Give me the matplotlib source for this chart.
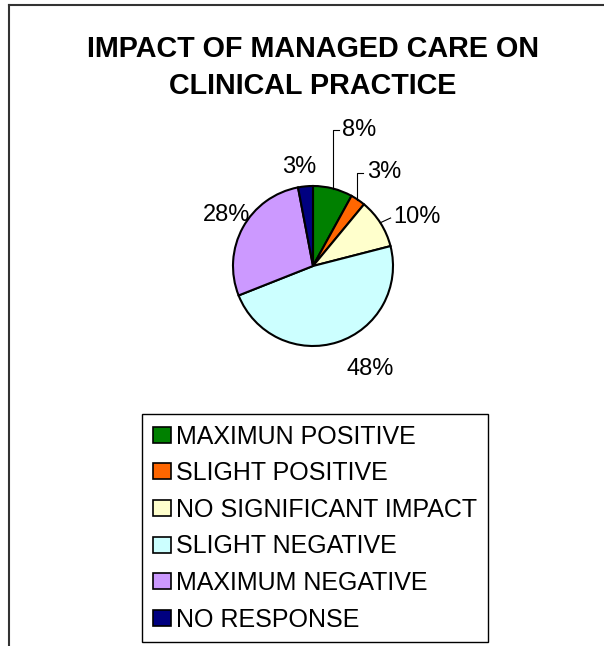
import matplotlib.pyplot as plt
from matplotlib.patches import Patch
from matplotlib.lines import Line2D

plt.rcParams['font.family'] = ['Liberation Sans', 'DejaVu Sans']

# data
categories = ['MAXIMUN POSITIVE', 'SLIGHT POSITIVE', 'NO SIGNIFICANT IMPACT',
              'SLIGHT NEGATIVE', 'MAXIMUM NEGATIVE', 'NO RESPONSE']
shares = [8, 3, 10, 48, 28, 3]
colors = ['#008000', '#FF6600', '#FFFFCC', '#CCFFFF', '#CC99FF', '#000080']

W, H = 604, 646
fig = plt.figure(figsize=(W / 100, H / 100), dpi=100)

# pie axes: centre (313, 266) px, radius 80 px -> 3 data units across 240 px
ax = fig.add_axes([193 / W, 1 - 386 / H, 240 / W, 240 / H])
wedges, _ = ax.pie(shares, colors=colors, startangle=90, counterclock=False,
                   radius=1, wedgeprops=dict(edgecolor='black', linewidth=1.5))
ax.set_xlim(-1.5, 1.5)
ax.set_ylim(-1.5, 1.5)
ax.axis('off')

# percent labels (moved by hand in the original, some with leader lines)
lab_kw = dict(fontsize=17, color='black', va='center')
line_kw = dict(color='black', lw=0.8, clip_on=False)
ax.text(0.36, 1.70, f'{shares[0]}%', ha='left', **lab_kw)
ax.plot([0.25, 0.25, 0.32], [0.96, 1.70, 1.70], **line_kw)
ax.text(0.67, 1.17, f'{shares[1]}%', ha='left', **lab_kw)
ax.plot([0.55, 0.55, 0.63], [0.83, 1.16, 1.16], **line_kw)
ax.text(1.0, 0.61, f'{shares[2]}%', ha='left', **lab_kw)
ax.plot([0.84, 0.97], [0.54, 0.60], **line_kw)
ax.text(0.71, -1.29, f'{shares[3]}%', ha='center', **lab_kw)
ax.text(-1.075, 0.64, f'{shares[4]}%', ha='center', **lab_kw)
ax.text(-0.175, 1.24, f'{shares[5]}%', ha='center', **lab_kw)

# title
fig.text(313 / W, 1 - 67.5 / H, 'IMPACT OF MANAGED CARE ON\nCLINICAL PRACTICE',
         ha='center', va='center', fontsize=20.7, fontweight='bold',
         linespacing=1.42)

# legend
handles = [Patch(facecolor=c, edgecolor='black', linewidth=1.2) for c in colors]
leg = fig.legend(handles, categories, loc='upper left',
                 bbox_to_anchor=(142 / W, 1 - 414 / H), borderaxespad=0,
                 fontsize=18, handlelength=0.72, handleheight=0.6,
                 handletextpad=0.24, labelspacing=0.505, borderpad=0.42,
                 fancybox=False, framealpha=1)
leg.get_frame().set_edgecolor('black')
leg.get_frame().set_linewidth(1.0)

# chart-area border (left and top edges only, rest cropped)
fig.add_artist(Line2D([9 / W, 9 / W], [0, 1 - 5 / H], color='#333333', lw=1.5))
fig.add_artist(Line2D([9 / W, 1], [1 - 5 / H, 1 - 5 / H], color='#333333', lw=1.5))

fig.savefig('out.png', dpi=100)
